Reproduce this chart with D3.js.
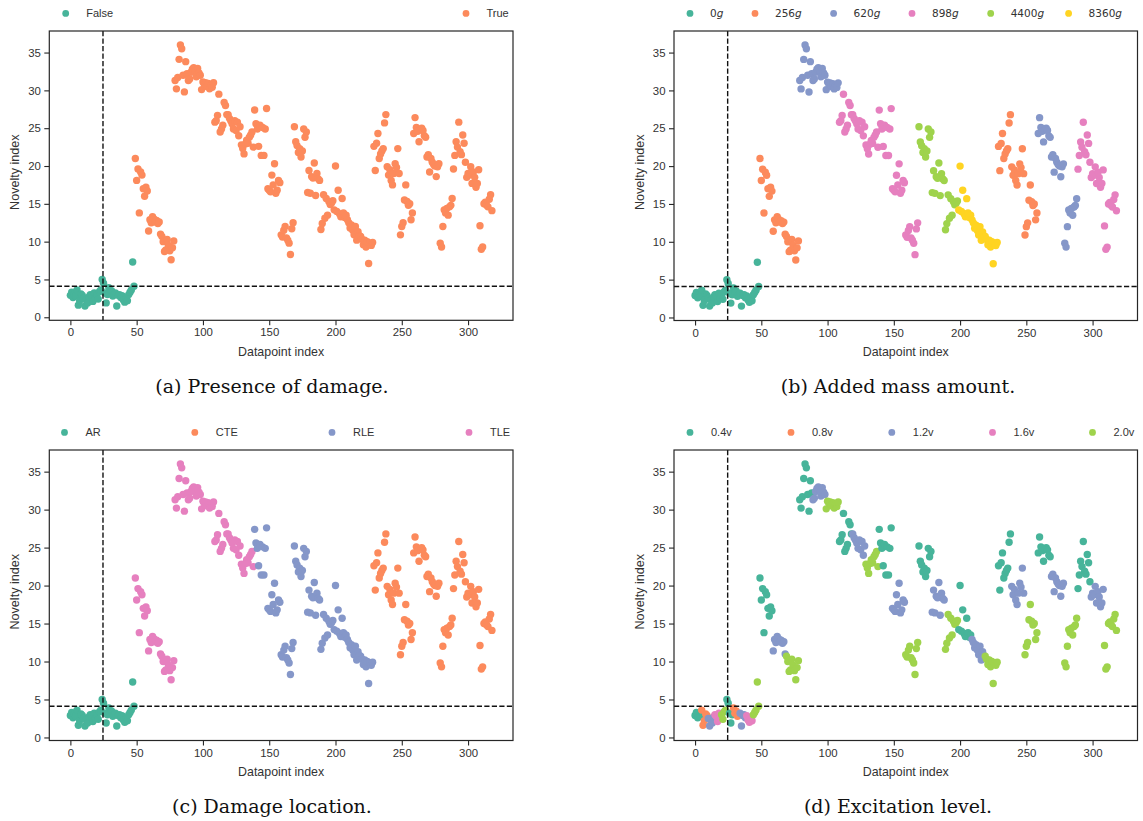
<!DOCTYPE html>
<html><head><meta charset="utf-8">
<script src="https://cdn.jsdelivr.net/npm/d3@7"></script>
<style>body{margin:0;background:#fff}svg{display:block}</style>
</head><body>
<svg id="chart" width="1143" height="821"></svg>
<script>
// ---- data (novelty index per datapoint, in datapoint order) ----
const healthy = [2.9,3.3,2.6,3.0,2.8, 3.6,1.6,2.2,3.1,2.9, 2.5,1.5,2.3,1.9,2.7, 3.0,2.8,2.1,3.2,2.5, 3.0,2.4,3.4,3.6,
                 5.0,4.5,3.2,1.9,3.0, 3.9,3.2,3.5,2.8,3.0, 3.2,1.5,2.9,3.0,2.6, 2.85,2.3,2.0,2.5,2.2, 3.0,3.3,3.6,7.3,4.1];
const scen256TLE = [21.0,18.1,19.6,13.8,19.2,18.8,17.0,16.0,17.2,16.7, 11.4,12.9,12.5,13.3,13.0,12.6,12.8,12.4,12.6,11.0, 10.7,10.0,8.7,8.9,10.3,9.5,8.8,7.6,9.2,10.1];
const scen620TLE = [31.3,30.2,31.7,34.1,36.0,35.5,32.0,29.8,33.8,32.2, 31.3,31.5,32.4,32.8,33.0,32.6,31.8,32.9,32.3,32.0, 30.1,31.1,30.8,31.0,30.5,30.9,30.2,30.7,30.4,31.0];
const scen898TLE = [25.8,26.0,26.7,29.5,24.5,24.9,25.4,28.4,28.0,26.8, 26.8,26.3,26.0,25.6,24.9,26.0,24.7,25.8,24.0,25.2, 22.8,22.3,21.6,22.9,23.4,23.0,23.8,24.1,24.5,22.5];
const scen898RLE = [27.4,25.6,24.9,22.6,25.4,21.4,25.1,21.4,24.9,27.6, 17.0,16.8,16.6,18.8,17.5,20.3,16.4,16.8,18.1,17.8, 10.9,10.6,11.5,12.0,10.5,10.2,9.8,8.3,11.7,12.5];
const scen4400RLE = [25.2,23.2,22.7,21.8,22.3,21.2,22.0,24.9,23.8,24.5, 16.5,19.4,16.4,18.6,18.4,20.4,16.1,19.0,18.3,18.1, 11.6,12.4,16.2,13.1,15.7,13.5,15.3,14.9,15.1,15.4];
const scen8360RLE = [14.2,20.0,14.0,16.8,13.7,13.3,15.7,13.8,13.2,13.5, 12.9,12.5,11.8,12.2,11.5,10.9,12.0,10.2,11.3,10.8, 10.7,10.3,9.6,10.2,9.3,10.0,7.1,9.8,9.5,9.9];
const scen256CTE = [22.6,19.4,23.0,24.3,21.0,21.6,22.0,22.3,25.7,26.8, 19.9,18.8,19.5,18.1,17.5,19.0,20.3,19.8,22.3,19.0, 10.9,12.0,12.5,15.5,17.5,15.3,14.8,15.0,12.9,13.8];
const scen620CTE = [24.3,26.4,25.1,24.6,23.2,24.8,25.0,24.7,24.0,23.8, 21.2,21.5,19.2,21.0,20.5,20.2,20.0,18.6,19.9,20.3, 9.8,9.3,12.0,14.2,13.8,14.4,13.5,14.6,14.8,15.7];
const scen898CTE = [19.6,21.4,23.2,22.5,25.8,21.9,21.5,24.1,23.0,20.5, 18.5,19.0,18.8,19.9,17.7,19.2,18.5,17.2,17.7,19.5, 12.1,9.0,9.3,15.0,15.2,14.8,14.6,15.6,16.2,14.1];

// category runs [label, count] in datapoint order
const presenceRuns = [["False",49],["True",270]];
const massRuns = [["0g",49],["256g",30],["620g",30],["898g",60],["4400g",30],["8360g",30],["256g",30],["620g",30],["898g",30]];
const locationRuns = [["AR",49],["TLE",90],["RLE",90],["CTE",90]];
const excitationRuns = [["0.4v",5],["0.8v",5],["1.2v",5],["1.6v",5],["2.0v",4],["0.4v",5],["0.8v",5],["1.2v",5],["1.6v",5],["2.0v",5],
  ["0.4v",10],["1.2v",10],["2.0v",10], ["0.4v",10],["1.2v",10],["2.0v",10], ["0.4v",10],["1.2v",10],["2.0v",10],
  ["0.4v",10],["1.2v",10],["2.0v",10], ["0.4v",10],["1.2v",10],["2.0v",10], ["0.4v",10],["1.2v",10],["2.0v",10],
  ["0.4v",10],["1.2v",10],["2.0v",10], ["0.4v",10],["1.2v",10],["2.0v",10], ["0.4v",10],["1.2v",10],["2.0v",10]];

const presenceCats = ["False","True"];
const massCats = ["0g","256g","620g","898g","4400g","8360g"];
const locationCats = ["AR","CTE","RLE","TLE"];
const excitationCats = ["0.4v","0.8v","1.2v","1.6v","2.0v"];

const xTicks = [0,50,100,150,200,250,300];
const yTicks = [0,5,10,15,20,25,30,35];
const thresholdIndex = 24.6;
const thresholdNovelty = 4.1;

const palette = ["#47b49a","#fc8a5c","#8597c9","#e680bf","#9fd34c","#ffd422"];

const values = [].concat(healthy, scen256TLE, scen620TLE, scen898TLE, scen898RLE, scen4400RLE, scen8360RLE, scen256CTE, scen620CTE, scen898CTE);
function expand(runs){ const out=[]; runs.forEach(([l,n])=>{for(let k=0;k<n;k++) out.push(l);}); return out; }

const panels = [
  {left:49.3, top:31, width:463.7, height:289.3, cats:presenceCats, runs:presenceRuns, legendX:[16.4,416.7], textGap:20.5, caption:"(a) Presence of damage.", captionX:272},
  {left:674, top:31, width:463.5, height:289.5, cats:massCats, runs:massRuns, legendX:[16,81,159.6,238,316.7,394.6], textGap:20, caption:"(b) Added mass amount.", captionX:898, italicG:true},
  {left:49.3, top:450, width:463.7, height:290.5, cats:locationCats, runs:locationRuns, legendX:[15.2,145.5,282.7,419.7], textGap:21, caption:"(c) Damage location.", captionX:272},
  {left:674, top:450, width:463.5, height:290.5, cats:excitationCats, runs:excitationRuns, legendX:[16,117,217.8,318.5,418.5], textGap:21, caption:"(d) Excitation level.", captionX:898}
];

const svg = d3.select("#chart");
const ink = "#262626";
const sans = "'Liberation Sans', Arial, Helvetica, sans-serif";

panels.forEach(p => {
  const labels = expand(p.runs);
  const color = d3.scaleOrdinal().domain(p.cats).range(palette);
  const x = d3.scaleLinear().domain([-15.9, 333.9]).range([0, p.width]);
  const y = d3.scaleLinear().domain([-0.4, 37.85]).range([p.height, 0]);
  const g = svg.append("g").attr("transform", `translate(${p.left},${p.top})`);

  const pts = values.map((v,i)=>({i, v, c: labels[i]}));
  g.append("g").selectAll("circle").data(pts).join("circle")
    .attr("cx", d=>x(d.i)).attr("cy", d=>y(d.v)).attr("r", 3.7)
    .attr("fill", d=>color(d.c));

  g.append("line").attr("x1", x(thresholdIndex)).attr("x2", x(thresholdIndex)).attr("y1",0).attr("y2",p.height)
    .attr("stroke","#111").attr("stroke-width",1.4).attr("stroke-dasharray","5.2,2.3");
  g.append("line").attr("x1",0).attr("x2",p.width).attr("y1",y(thresholdNovelty)).attr("y2",y(thresholdNovelty))
    .attr("stroke","#111").attr("stroke-width",1.4).attr("stroke-dasharray","5.2,2.3");

  const xa = g.append("g").attr("transform",`translate(0,${p.height})`)
    .call(d3.axisBottom(x).tickValues(xTicks).tickSize(5).tickPadding(3));
  const ya = g.append("g").call(d3.axisLeft(y).tickValues(yTicks).tickSize(5).tickPadding(3.5));
  [xa,ya].forEach(a=>{
    a.select(".domain").remove();
    a.selectAll(".tick line").attr("stroke",ink).attr("stroke-width",1.1);
    a.selectAll(".tick text").attr("fill","#333").style("font-family",sans).style("font-size","11.4px");
  });

  g.append("rect").attr("width",p.width).attr("height",p.height).attr("fill","none").attr("stroke",ink).attr("stroke-width",1.2);

  g.append("text").attr("x",p.width/2).attr("y",p.height+31.5).attr("text-anchor","middle").attr("dominant-baseline","central")
    .attr("fill","#333").style("font-family",sans).style("font-size","12.4px").text("Datapoint index");
  g.append("text").attr("transform",`translate(-34,${p.height/2-3.5}) rotate(-90)`).attr("text-anchor","middle").attr("dominant-baseline","central")
    .attr("fill","#333").style("font-family",sans).style("font-size","12.6px").text("Novelty index");

  // legend
  const lg = g.append("g").attr("transform",`translate(0,-17.6)`);
  p.cats.forEach((c,k)=>{
    lg.append("circle").attr("cx",p.legendX[k]).attr("cy",0).attr("r",3.4).attr("fill",color(c));
    const t = lg.append("text").attr("x",p.legendX[k]+p.textGap).attr("y",0).attr("dominant-baseline","central")
      .attr("fill","#333").style("font-family",sans).style("font-size","11px");
    if (p.italicG) {
      t.style("font-family","'DejaVu Sans', sans-serif").style("font-size","10.5px");
      t.append("tspan").text(c.slice(0,-1));
      t.append("tspan").style("font-style","italic").text(c.slice(-1));
    } else t.text(c);
  });

  svg.append("text").attr("x",p.captionX).attr("y",p.top+p.height+72.5).attr("text-anchor","middle")
    .attr("fill","#111").style("font-family","'DejaVu Serif', serif").style("font-size","19px").text(p.caption);
});
</script>
</body></html>
